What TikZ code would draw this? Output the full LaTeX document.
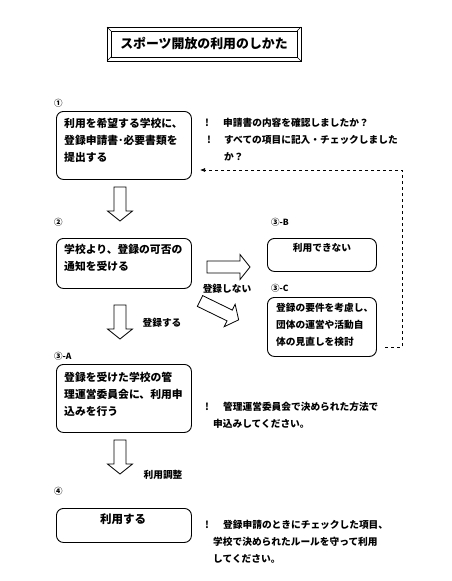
\documentclass[tikz,border=0pt]{standalone}
\usepackage{fontspec}
\newfontfamily\jpfont{Noto Sans CJK JP}
\usetikzlibrary{arrows.meta}

\tikzset{
  flowbox/.style={draw,line width=0.9pt,rounded corners=7pt,inner sep=0pt,anchor=north west},
  boxtext/.style={inner sep=0pt,align=left,font=\jpfont\bfseries\fontsize{10.8}{17}\selectfont},
  notetext/.style={inner sep=0pt,align=left,font=\jpfont\bfseries\fontsize{9.7}{17}\selectfont},
  steplabel/.style={inner sep=0pt,anchor=west,font=\jpfont\bfseries\fontsize{8.5}{10}\selectfont},
  pics/blockarrow/.style={code={
    \draw[line width=0.8pt,fill=white] (0,-6)--(#1-10,-6)--(#1-10,-12.5)--(#1,0)--(#1-10,12.5)--(#1-10,6)--(0,6)--cycle;
  }}
}

\begin{document}
\begin{tikzpicture}[x=1pt,y=-1pt]
			\useasboundingbox (0,0) rectangle (451,581);
			\draw[line width=1pt] (107,27) rectangle (301,61);
			\draw[line width=0.8pt] (111,31) rectangle (297,57);
			\draw[line width=0.6pt] (107,27)--(111,31) (301,27)--(297,31) (107,61)--(111,57) (301,61)--(297,57);
			\node[inner sep=0pt,font=\jpfont\bfseries\fontsize{12.9}{14}\selectfont] (title) at(204,44) {スポーツ開放の利用のしかた};
			\node[steplabel] (s1) at(54,103) {①};
			\node[steplabel] (s2) at(54,222) {②};
			\node[steplabel] (sB) at(271,222) {③-B};
			\node[steplabel] (sC) at(271,288) {③-C};
			\node[steplabel] (sA) at(54,356) {③-A};
			\node[steplabel] (s4) at(54,491) {④};
			\node[flowbox,minimum width=135pt,minimum height=68pt] (box1) at(56,111) {};
			\node[flowbox,minimum width=135pt,minimum height=50pt] (box2) at(56,238) {};
			\node[flowbox,minimum width=109pt,minimum height=33pt] (boxB) at(267,238) {};
			\node[flowbox,minimum width=109pt,minimum height=59pt] (boxC) at(267,297) {};
			\node[flowbox,minimum width=135pt,minimum height=68pt] (boxA) at(56,364) {};
			\node[flowbox,minimum width=135pt,minimum height=34pt] (box4) at(56,508) {};
			\node[boxtext,anchor=north west] (t1) at(64,117.5) {利用を希望する学校に、\\登録申請書･必要書類を\\提出する};
			\node[boxtext,anchor=north west] (t2) at(64,243.5) {学校より、登録の可否の\\通知を受ける};
			\node[notetext] (tB) at(322,248) {利用できない};
			\node[notetext,anchor=north west] (tC) at(276,303) {登録の要件を考慮し、\\団体の運営や活動自\\体の見直しを検討};
			\node[boxtext,anchor=north west] (tA) at(64,371.5) {登録を受けた学校の管\\理運営委員会に、利用申\\込みを行う};
			\node[boxtext,font=\jpfont\bfseries\fontsize{11.5}{14}\selectfont] (t4) at(123,519) {利用する};
			\node[notetext] (bang1) at(207,123) {!};
			\node[notetext,anchor=west] (n1) at(223,123) {申請書の内容を確認しましたか？};
			\node[notetext] (bang2) at(209,140) {!};
			\node[notetext,anchor=north west] (n2) at(224,135) {すべての項目に記入・チェックしました\\か？};
			\node[notetext] (bang3) at(207,407) {!};
			\node[notetext,anchor=north west] (n3) at(213,402) {\hspace*{10pt}管理運営委員会で決められた方法で\\申込みしてください。};
			\node[notetext] (bang4) at(207,525) {!};
			\node[notetext,anchor=north west] (n4) at(213,520) {\hspace*{10pt}登録申請のときにチェックした項目、\\学校で決められたルールを守って利用\\してください。};
			\pic[rotate=-90] at(120,187) {blockarrow=34};
			\pic[rotate=-90] at(120,305) {blockarrow=34};
			\pic[rotate=-90] at(120,440) {blockarrow=34};
			\pic at(207,267) {blockarrow=43};
			\pic[rotate=-26] at(200,301) {blockarrow=43};
			\node[notetext] (lno) at(227,289) {登録しない};
			\node[notetext] (lyes) at(162,323) {登録する};
			\node[notetext] (ladj) at(163,475) {利用調整};
			\coordinate (loopstart) at(385,347);
			\coordinate (loopend) at(200,170);
			\draw[dashed,line width=0.7pt,-{Latex[length=5pt,width=4pt]}] (loopstart)--++(17,0)|-(loopend);
		\end{tikzpicture}
\end{document}
